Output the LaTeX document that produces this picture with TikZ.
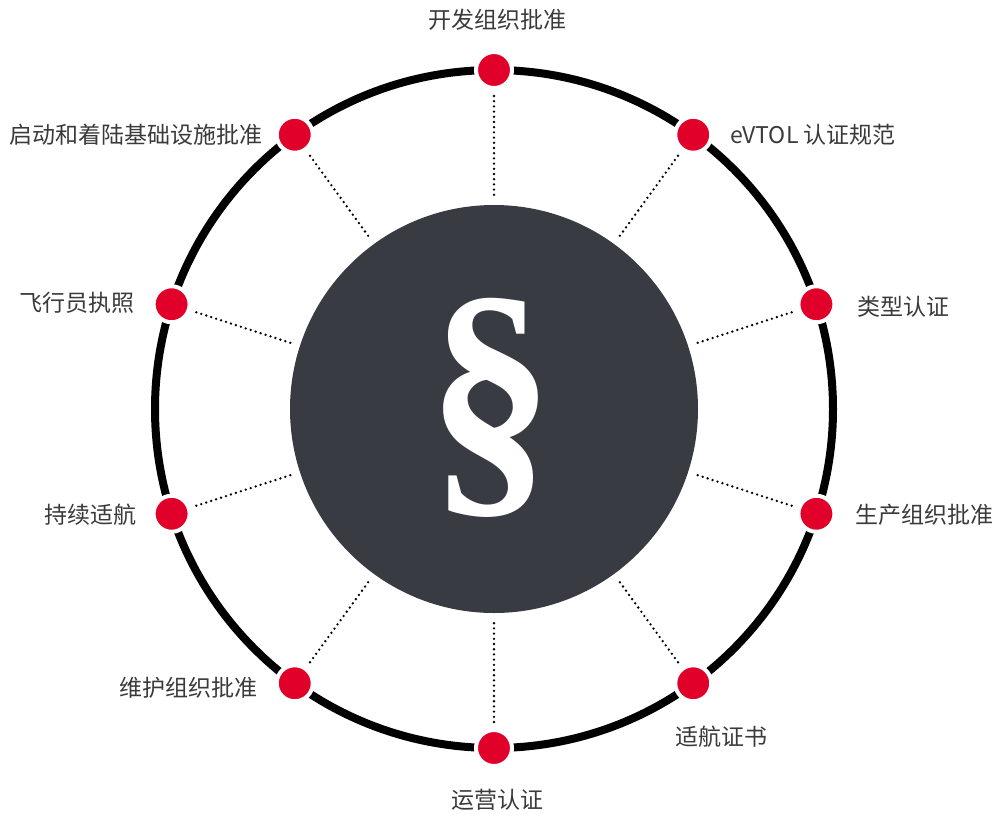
\documentclass[tikz,border=0pt]{standalone}
\usepackage{fontspec}
\newfontfamily\cjk{Noto Sans CJK SC}
\newfontfamily\secfont{Liberation Serif}
\usetikzlibrary{calc}
\definecolor{dotred}{HTML}{E0002A}
\definecolor{hub}{HTML}{393B43}
\definecolor{txt}{HTML}{3A3A3A}
\tikzset{
  reddot/.style={circle,fill=dotred,draw=white,line width=4pt,minimum size=36pt,inner sep=0pt},
  lbl/.style={font=\cjk\fontsize{23}{23}\selectfont,text=txt,inner sep=0pt},
  spoke/.style={line width=2.6pt,dash pattern=on 0pt off 5.2pt,line cap=round,shorten <=6pt,shorten >=10pt},
  ring/.style={line width=8pt,draw=black}
}
\begin{document}
\begin{tikzpicture}[x=1pt,y=-1pt]
\useasboundingbox (0,0) rectangle (997,817);
\coordinate (o) at (494,409);
\draw[ring] (o) circle (339);
\node[circle,fill=hub,minimum size=408pt,inner sep=0pt] (c) at (o) {};
\node[text=white,inner sep=0pt,xscale=0.93,font=\secfont\bfseries\fontsize{273}{273}\selectfont] (sec) at (491,408) {§};
\foreach \i/\a in {1/90,2/54,3/18,4/-18,5/-54,6/-90,7/-126,8/-162,9/162,10/126}{
  \node[reddot] (d\i) at ($(o)+(\a:339 and -339)$) {};
  \draw[spoke] (d\i) -- (c);
}
\node[lbl] (l1) at (497,20) {开发组织批准};
\node[lbl,anchor=west] (l2) at (730,135) {eVTOL 认证规范};
\node[lbl,anchor=west] (l3) at (857,307) {类型认证};
\node[lbl,anchor=west] (l4) at (855,515) {生产组织批准};
\node[lbl,anchor=west] (l5) at (675,737) {适航证书};
\node[lbl] (l6) at (497,800) {运营认证};
\node[lbl,anchor=east] (l7) at (258,688) {维护组织批准};
\node[lbl,anchor=east] (l8) at (137,515) {持续适航};
\node[lbl,anchor=east] (l9) at (135,303) {飞行员执照};
\node[lbl,anchor=east] (l10) at (263,135) {启动和着陆基础设施批准};
\end{tikzpicture}
\end{document}
